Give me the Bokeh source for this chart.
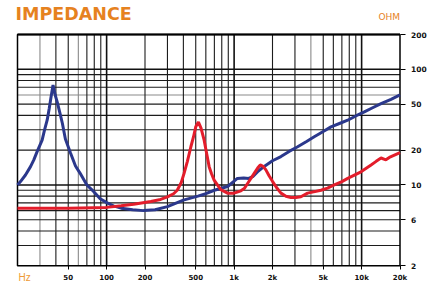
import math
from bokeh.plotting import figure
from bokeh.models import FixedTicker, Label, LogAxis
from bokeh.embed import file_html
from bokeh.resources import INLINE

# ---- data ----
blue_f = [20, 21.1, 23.1, 25.3, 26.8, 28.5, 31.2, 32.6, 34.2, 35.5, 36.5, 38.0, 39.5, 41, 43, 45,
          47.5, 52, 57, 62, 70, 79, 89, 101, 113, 130, 160, 195, 240, 300, 400, 520, 600, 700,
          890, 1000, 1060, 1190, 1300, 1400, 1550, 1710, 2000, 2330, 2700, 3150, 3700, 4250,
          5000, 5750, 6700, 7780, 9000, 10500, 12200, 14200, 17000, 20000]
blue_z = [10.0, 10.7, 12.2, 14.4, 16.4, 19.4, 24.4, 30, 36.5, 46, 56, 73, 60, 52, 42, 34,
          25, 19, 14.6, 12.6, 10.0, 8.8, 7.6, 7.0, 6.6, 6.3, 6.1, 6.0, 6.1, 6.5, 7.4, 8.0, 8.4, 9.0,
          9.7, 10.8, 11.4, 11.5, 11.4, 11.8, 13.2, 14.4, 16.2, 17.6, 19.5, 21.4, 23.8, 26.1,
          29, 31.8, 34, 36.3, 39.5, 42.8, 46.5, 50.5, 55, 60]

red_f = [20, 50, 100, 130, 163, 222, 265, 300, 335, 358, 385, 405, 430, 458, 480, 500, 525, 550,
         582, 610, 637, 665, 697, 740, 787, 888, 1000, 1130, 1200, 1275, 1437, 1530, 1603, 1690,
         1775, 1880, 2005, 2150, 2330, 2550, 2790, 3050, 3340, 3770, 4800, 5400, 6110, 7000,
         7780, 9890, 11860, 13000, 14200, 15500, 16500, 18080, 20000]
red_z = [6.3, 6.3, 6.4, 6.6, 6.8, 7.2, 7.5, 7.9, 8.4, 9.0, 10.5, 12.6, 16, 21.4, 26, 31.8, 35, 31,
         24.4, 18.5, 14.4, 12.5, 11.0, 10.0, 9.1, 8.5, 8.5, 8.9, 9.3, 10.3, 12.6, 14, 14.9, 14.5,
         13.5, 12.0, 10.7, 9.5, 8.5, 8.0, 7.8, 7.8, 7.9, 8.5, 9.0, 9.4, 10.0, 10.7,
         11.4, 13.0, 14.9, 16.0, 17.1, 16.5, 17.3, 18.1, 19.0]

x_tick_values = [50, 100, 200, 500, 1000, 2000, 5000, 10000, 20000]
x_tick_labels = ["50", "100", "200", "500", "1k", "2k", "5k", "10k", "20k"]
y_tick_values = [2, 5, 10, 20, 50, 100, 200]
y_tick_labels = ["2", "6", "10", "20", "50", "100", "200"]

x_grid_dark = [40, 50, 70, 80, 90, 200, 300, 400, 500, 600, 700, 800, 900,
               2000, 3000, 5000, 6000, 7000, 8000, 9000]
x_grid_light = [30, 60, 4000]
x_grid_decade = [100, 1000, 10000]
y_grid_dark = [3, 4, 5, 6, 7, 8, 9, 20, 30, 40, 50, 70, 80, 90]
y_grid_light = [60]
y_grid_decade = [10, 100]

F_MIN, F_MAX = 20, 20000
Z_MIN, Z_MAX = 2, 200

# ---- layout (pixels) ----
W, H = 433, 282
CL, CR, CT, CB = 17.0, 399.5, 34.0, 265.3   # chart box inside canvas
ppx = (CR - CL) / math.log10(F_MAX / F_MIN)
ppy = (CB - CT) / math.log10(Z_MAX / Z_MIN)
x0 = 10 ** (math.log10(F_MIN) - CL / ppx)
x1 = 10 ** (math.log10(F_MAX) + (W - CR) / ppx)
y1 = 10 ** (math.log10(Z_MAX) + CT / ppy)
y0 = 10 ** (math.log10(Z_MIN) - (H - CB) / ppy)

ORANGE = "#E6821F"
ORANGE2 = "#EE9A35"
BLUE = "#2B388C"
RED = "#E31D2B"

p = figure(width=W, height=H, x_axis_type="log", y_axis_type="log",
           x_range=(x0, x1), y_range=(y0, y1),
           x_axis_location=None, y_axis_location=None,
           output_backend="svg", toolbar_location=None,
           min_border=0, min_border_left=0, min_border_right=0,
           min_border_top=0, min_border_bottom=0)
p.background_fill_color = "white"
p.border_fill_color = "white"
p.outline_line_color = None
p.grid.visible = False

# grid lines
def vlines(vals, color, width):
    p.segment(x0=vals, y0=[Z_MIN] * len(vals), x1=vals, y1=[Z_MAX] * len(vals),
              line_color=color, line_width=width)

def hlines(vals, color, width):
    p.segment(x0=[F_MIN] * len(vals), y0=vals, x1=[F_MAX] * len(vals), y1=vals,
              line_color=color, line_width=width)

vlines(x_grid_light, "#8a8a8a", 1.1)
hlines(y_grid_light, "#8a8a8a", 1.1)
vlines(x_grid_dark, "#1c1c1c", 1.1)
hlines(y_grid_dark, "#1c1c1c", 1.1)
vlines(x_grid_decade, "#111111", 1.6)
hlines(y_grid_decade, "#111111", 1.6)

# chart border
p.quad(left=[F_MIN], right=[F_MAX], bottom=[Z_MIN], top=[Z_MAX],
       fill_color=None, line_color="black", line_width=1.5)
hlines([Z_MAX], "black", 2.2)

# axes (drawn at the chart edges)
xa = LogAxis(ticker=FixedTicker(ticks=x_tick_values), fixed_location=Z_MIN)
xa.major_label_overrides = dict(zip(x_tick_values, x_tick_labels))
ya = LogAxis(ticker=FixedTicker(ticks=y_tick_values), fixed_location=F_MAX)
ya.major_label_overrides = dict(zip(y_tick_values, y_tick_labels))
for a in (xa, ya):
    a.axis_line_color = None
    a.minor_tick_line_color = None
    a.major_tick_in = 0
    a.major_tick_line_color = "black"
    a.major_tick_line_width = 1
    a.major_label_text_font = "DejaVu Sans"
    a.major_label_text_font_style = "bold"
    a.major_label_text_color = "#111111"
xa.major_label_text_font_size = "7px"
ya.major_label_text_font_size = "7.5px"
xa.major_tick_out = 4
xa.major_label_standoff = 4
ya.major_tick_out = 5
ya.major_label_standoff = 6
p.add_layout(xa, "below")
p.add_layout(ya, "right")

# curves
p.line(blue_f, blue_z, line_color=BLUE, line_width=3)
p.line(red_f, red_z, line_color=RED, line_width=3)

# texts
p.add_layout(Label(x=F_MIN, y=Z_MAX, x_offset=-2, y_offset=21, text="IMPEDANCE",
                   text_font="DejaVu Sans", text_font_style="bold", text_font_size="17.5px",
                   text_color=ORANGE, text_baseline="alphabetic", text_align="left"))
p.add_layout(Label(x=F_MAX, y=Z_MAX, x_offset=0, y_offset=18, text="OHM",
                   text_font="DejaVu Sans", text_font_size="9px",
                   text_color=ORANGE, text_baseline="alphabetic", text_align="right"))
p.add_layout(Label(x=F_MIN, y=Z_MIN, x_offset=1, y_offset=-12, text="Hz",
                   text_font="Liberation Sans", text_font_size="10px",
                   text_color=ORANGE2, text_baseline="alphabetic", text_align="left"))

open("out.html", "w").write(file_html(p, INLINE))
